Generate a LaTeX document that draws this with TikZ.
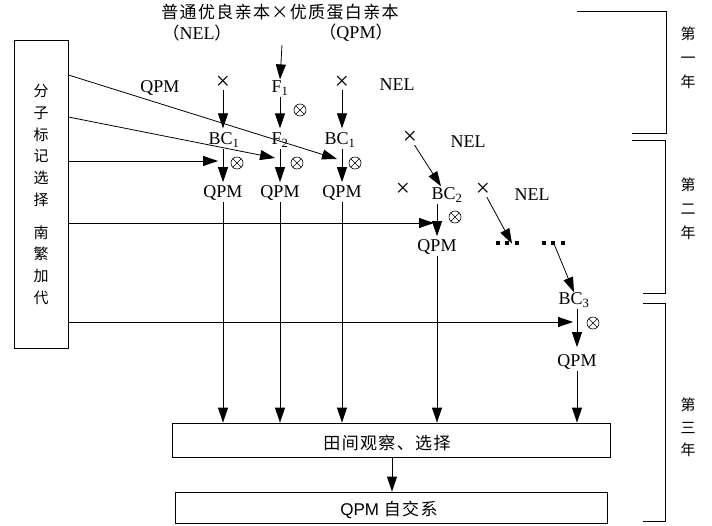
\documentclass[tikz,border=0pt]{standalone}
\usepackage{fontspec}
\setmainfont{Liberation Serif}
\setsansfont{Liberation Sans}
\newfontfamily\cjk[LetterSpace=8]{Noto Sans CJK SC}
\newfontfamily\cjkv{Noto Sans CJK SC}
\usetikzlibrary{arrows.meta}

\begin{document}
\begin{tikzpicture}[x=1pt,y=-1pt,line width=0.8pt,>={Triangle[length=15pt,width=10pt]},
  lbl/.style={inner sep=1pt,font=\fontsize{18}{18}\selectfont},
  cross/.style={inner sep=0pt,font=\fontsize{25}{25}\selectfont},
  selfed/.style={circle,draw,line width=0.6pt,minimum size=12pt,inner sep=0pt,
    path picture={\draw[line width=0.6pt] (path picture bounding box.north west) -- (path picture bounding box.south east)
      (path picture bounding box.north east) -- (path picture bounding box.south west);}},
  cn/.style={inner sep=1pt,font=\cjk\fontsize{17}{17}\selectfont},
  year/.style={inner sep=0pt,align=center,font=\cjkv\fontsize{15}{24}\selectfont},
  stepbox/.style={draw,inner sep=0pt}]
\useasboundingbox (0,0) rectangle (712,526);
% ---------- parents ----------
\node[cn] (title) at (280,12) {普通优良亲本×优质蛋白亲本};
\node[inner sep=0pt] (nel0) at (197,33) {\cjkv\fontsize{17}{17}\selectfont （\fontsize{18}{18}\rmfamily NEL\cjkv\fontsize{17}{17}\selectfont ）};
\node[inner sep=0pt] (qpm0) at (356,33) {\cjkv\fontsize{17}{17}\selectfont （\fontsize{18}{18}\rmfamily QPM\cjkv\fontsize{17}{17}\selectfont ）};
\coordinate (top) at (282,45);
% ---------- first year ----------
\node[lbl] (qpmL) at (160,88) {QPM};
\node[cross] (x1) at (223,83) {×};
\node[lbl] (f1) at (280,88) {F\textsubscript{1}};
\node[cross] (x2) at (342,83) {×};
\node[lbl] (nel1) at (397,85) {NEL};
\node[selfed] (o1) at (300,110) {};
\node[lbl] (bc1a) at (224,140) {BC\textsubscript{1}};
\node[lbl] (f2) at (280,140) {F\textsubscript{2}};
\node[lbl] (bc1b) at (340,140) {BC\textsubscript{1}};
\node[selfed] (o2) at (237,163) {};
\node[selfed] (o3) at (297,163) {};
\node[selfed] (o4) at (355,163) {};
\node[lbl] (qpm1) at (223,193) {QPM};
\node[lbl] (qpm2) at (280,193) {QPM};
\node[lbl] (qpm3) at (342,193) {QPM};
\draw[->] (top) -- (f1.north);
\draw[->,shorten >=3pt] (x1) -- (x1 |- bc1a.north);
\draw[->,shorten >=3pt] (f1) -- (f2.north);
\draw[->,shorten >=3pt] (x2) -- (x2 |- bc1b.north);
\draw[->,shorten >=2pt] (qpm1 |- bc1a.south) -- (qpm1.north);
\draw[->,shorten >=2pt] (f2.south) -- (qpm2.north);
\draw[->,shorten >=2pt] (qpm3 |- bc1b.south) -- (qpm3.north);
% ---------- second year ----------
\node[cross] (x3) at (410,138) {×};
\node[lbl] (nel2) at (468,142) {NEL};
\node[cross] (x4) at (403,190) {×};
\node[lbl] (bc2) at (447,195) {BC\textsubscript{2}};
\node[cross] (x5) at (483,190) {×};
\node[lbl] (nel3) at (532,195) {NEL};
\node[selfed] (o5) at (455,217) {};
\node[lbl] (qpm4) at (437,247) {QPM};
\node[inner sep=0pt] (dots1) at (507,243) {\rule{4pt}{4pt}\hspace{5.5pt}\rule{4pt}{4pt}\hspace{5.5pt}\rule{4pt}{4pt}};
\node[inner sep=0pt] (dots2) at (553,243) {\rule{4pt}{4pt}\hspace{5.5pt}\rule{4pt}{4pt}\hspace{5.5pt}\rule{4pt}{4pt}};
\draw[->] (x3) -- ([xshift=-6pt]bc2.north);
\draw[->,shorten >=2pt] (qpm4 |- bc2.south) -- (qpm4.north);
\draw[->] (x5) -- ([xshift=5pt,yshift=-3pt]dots1.north);
% ---------- third year ----------
\node[lbl] (bc3) at (574,300) {BC\textsubscript{3}};
\node[selfed] (o6) at (593,323) {};
\node[lbl] (qpm5) at (577,362) {QPM};
\draw[->] ([yshift=4pt]dots2.south) -- ([yshift=-1pt]bc3.north);
\draw[->,shorten >=6pt] (qpm5 |- bc3.south) -- (qpm5.north);
% ---------- marker selection box ----------
\node[stepbox,minimum width=54pt,minimum height=308pt] (sel) at (41,194) {};
\node[year,font=\cjkv\fontsize{15}{21.7}\selectfont] (seltxt) at (41,194.5) {分\\子\\标\\记\\选\\择\\[11pt]南\\繁\\加\\代};
\coordinate (t1) at (337,159);
\coordinate (t2) at (275,158);
\coordinate (t3) at (218,161);
\coordinate (t4) at (434,223);
\coordinate (t5) at (573,322);
\draw[->] (sel.east |- 0,75) -- (t1);
\draw[->] (sel.east |- 0,117) -- (t2);
\draw[->] (sel.east |- t3) -- (t3);
\draw[->] (sel.east |- t4) -- (t4);
\draw[->] (sel.east |- t5) -- (t5);
% ---------- field and inbred lines ----------
\node[stepbox,minimum width=438pt,minimum height=34pt] (field) at (391,440) {};
\node[cn] (fieldtxt) at (387,443) {田间观察、选择};
\node[stepbox,minimum width=432pt,minimum height=31pt] (inbred) at (391,507.5) {};
\node[inner sep=0pt] (inbredtxt) at (389,510) {\sffamily\fontsize{17}{17}\selectfont QPM \cjk 自交系};
\foreach \c in {qpm1,qpm2,qpm3,qpm4,qpm5}
  \draw[->] (\c.south) -- (\c.south |- field.north);
\draw[->] (field.south -| 392,0) -- (inbred.north -| 392,0);
% ---------- years ----------
\draw (577,11) -- (666,11) -- (666,133) -- (632,133);
\draw (632,140) -- (665,140) -- (665,293) -- (643,293);
\draw (643,303) -- (665,303) -- (665,521) -- (643,521);
\node[year] (y1) at (688,57.5) {第\\一\\年};
\node[year] (y2) at (688,209) {第\\二\\年};
\node[year,font=\cjkv\fontsize{15}{22.5}\selectfont] (y3) at (688,427.5) {第\\三\\年};
\end{tikzpicture}
\end{document}
